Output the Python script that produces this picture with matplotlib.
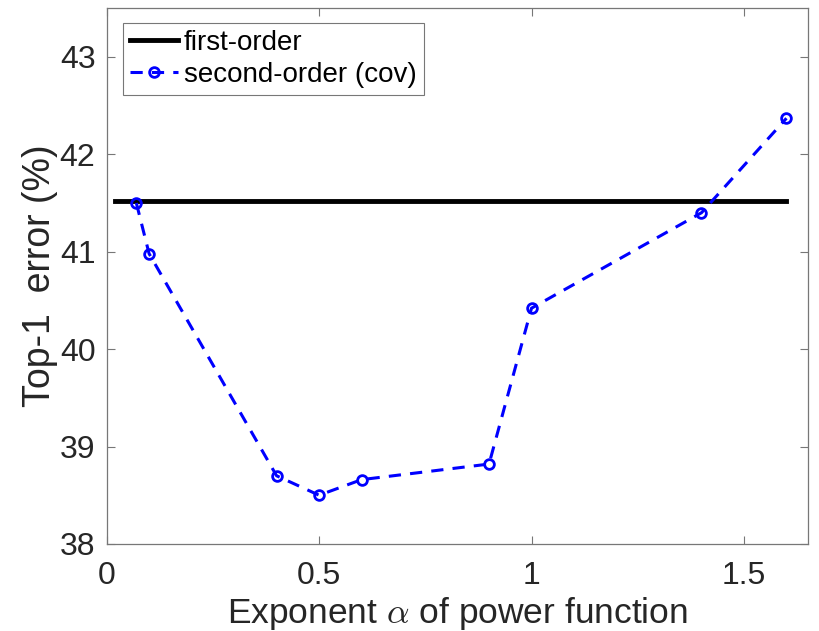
import matplotlib.pyplot as plt

plt.rcParams['font.family'] = ['Liberation Sans', 'DejaVu Sans']
plt.rcParams['mathtext.fontset'] = 'cm'

# data
alpha = [0.07, 0.1, 0.4, 0.5, 0.6, 0.9, 1.0, 1.4, 1.6]
second_order = [41.50, 40.98, 38.70, 38.50, 38.66, 38.82, 40.42, 41.40, 42.37]
first_x = [0.02, 1.6]
first_order = [41.52, 41.52]

fig = plt.figure(figsize=(8.2, 6.31), dpi=100)
ax = fig.add_axes([0.130, 0.138, 0.855, 0.849])

ax.plot(first_x, first_order, color='black', lw=3.5, label='first-order')
ax.plot(alpha, second_order, color='blue', ls='--', lw=2.2, marker='o',
        ms=7, mfc='none', mew=2, dashes=(4, 3), label='second-order (cov)')

ax.set_xlim(0, 1.65)
ax.set_ylim(38, 43.5)
ax.set_xticks([0, 0.5, 1, 1.5])
ax.set_xticklabels(['0', '0.5', '1', '1.5'])
ax.set_yticks([38, 39, 40, 41, 42, 43])

ax.tick_params(direction='in', top=True, right=True, length=6, width=0.8,
               colors='#777777', labelcolor='#262626', labelsize=23)
ax.tick_params(axis='x', pad=12)
ax.tick_params(axis='y', pad=8)
for s in ax.spines.values():
    s.set_color('#777777')
    s.set_linewidth(0.9)

ax.set_xlabel(r'Exponent $\alpha$ of power function', fontsize=25.5, color='#262626', labelpad=3)
ax.set_ylabel('Top-1  error (%)', fontsize=27, color='#262626', labelpad=1)

leg = ax.legend(loc='upper left', fontsize=20, frameon=True, fancybox=False,
                edgecolor='#555555', handlelength=1.75, handletextpad=0.2,
                borderpad=0.25, labelspacing=0.2, borderaxespad=0,
                bbox_to_anchor=(0.023, 0.972))
leg.get_frame().set_linewidth(0.8)

fig.savefig('out.png', dpi=100, facecolor='white')
